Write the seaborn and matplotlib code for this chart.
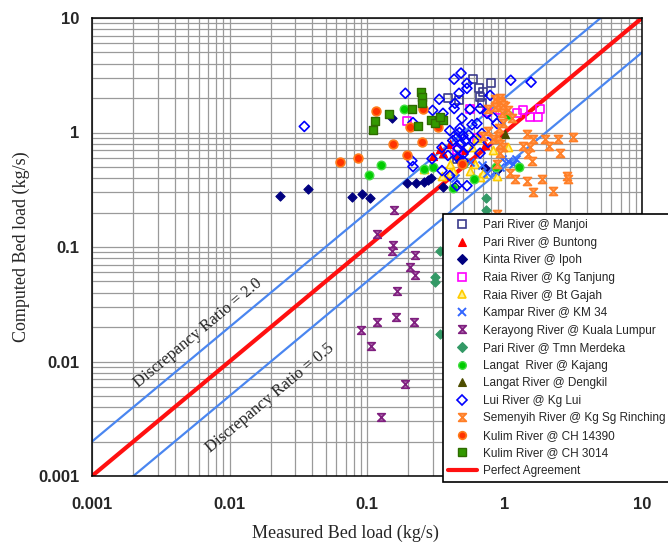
import numpy as np
import pandas as pd
import matplotlib
matplotlib.use("Agg")
import matplotlib.pyplot as plt
from matplotlib.path import Path
from matplotlib.lines import Line2D
import matplotlib.ticker as mticker
import seaborn as sns

sns.set_style("white")
plt.rcParams["font.family"] = ["Liberation Sans", "DejaVu Sans"]

# ---------------- data ----------------
pari_manjoi_x = [0.59, 0.80, 0.65, 0.70, 0.39, 0.47, 0.66, 0.69, 0.45]
pari_manjoi_y = [2.92, 2.69, 2.43, 2.24, 1.99, 1.91, 2.03, 1.80, 0.59]

pari_buntong_x = [0.34, 0.40, 0.50, 0.72, 0.36, 0.45, 0.30, 0.60]
pari_buntong_y = [0.72, 0.80, 0.70, 0.77, 0.66, 0.64, 0.62, 0.55]

kinta_x = [0.0233, 0.0373, 0.0778, 0.092, 0.105, 0.195, 0.227, 0.278, 0.29,
           0.357, 0.436, 0.474, 0.72, 0.88, 0.152, 0.26]
kinta_y = [0.28, 0.323, 0.275, 0.292, 0.269, 0.364, 0.364, 0.387, 0.40,
           0.336, 0.336, 0.567, 0.493, 0.47, 1.35, 0.37]

raia_tanjung_x = [0.195, 0.561, 0.746, 0.927, 1.23, 1.37, 1.53, 1.75, 1.82, 0.45, 0.631]
raia_tanjung_y = [1.25, 1.60, 1.50, 1.56, 1.47, 1.56, 1.37, 1.37, 1.59, 0.70, 0.89]

raia_gajah_x = [0.631, 0.58, 1.06, 0.40, 0.56, 0.664, 0.88, 0.26, 0.35, 0.82, 0.42, 0.61, 0.70, 0.40]
raia_gajah_y = [0.90, 0.74, 0.74, 0.535, 0.465, 0.41, 0.42, 0.483, 0.42, 0.70, 0.465, 0.535, 0.445, 0.44]

kampar_x = [0.96, 1.06, 1.15, 0.93, 0.85, 0.56, 0.436, 0.685, 0.746, 1.22, 0.45]
kampar_y = [0.59, 0.567, 0.535, 0.50, 0.465, 0.55, 0.40, 0.52, 0.44, 0.59, 0.66]

kerayong_x = [0.157, 0.118, 0.154, 0.151, 0.223, 0.205, 0.223, 0.165, 0.118,
              0.163, 0.22, 0.090, 0.107, 0.19, 0.126]
kerayong_y = [0.211, 0.130, 0.104, 0.092, 0.085, 0.067, 0.057, 0.041, 0.022,
              0.0243, 0.022, 0.0187, 0.0136, 0.0064, 0.0033]

merdeka_x = [0.34, 0.313, 0.313, 0.34, 0.733, 0.733]
merdeka_y = [0.092, 0.055, 0.049, 0.0173, 0.269, 0.211]

kajang_x = [0.104, 0.126, 0.186, 0.26, 0.30, 0.42, 0.60, 0.87, 1.06, 1.27, 0.50]
kajang_y = [0.428, 0.524, 1.60, 0.483, 0.50, 0.33, 0.395, 0.504, 1.42, 0.50, 0.535]

dengkil_x = [1.0]
dengkil_y = [0.98]

lui_x = [0.035, 0.19, 0.216, 0.212, 0.216, 0.297, 0.351, 0.335, 0.30, 0.357,
         0.43, 0.483, 0.533, 0.533, 0.467, 0.561, 0.664, 0.786, 1.11, 1.56,
         0.43, 0.40, 0.42, 0.459, 0.499, 0.543, 0.631, 0.685, 0.746, 0.76,
         0.824, 0.88, 0.388, 0.351, 0.45, 0.533, 0.40, 0.499, 0.664, 0.436,
         0.49, 0.58, 0.475, 0.45, 0.48, 0.52, 0.47, 0.55, 0.50, 0.46, 0.60]
lui_y = [1.13, 2.2, 1.22, 0.567, 0.504, 0.59, 0.465, 1.95, 1.56, 1.47,
         2.92, 3.3, 2.69, 2.43, 2.2, 1.59, 1.62, 2.11, 2.86, 2.75,
         1.62, 1.04, 0.85, 0.725, 0.94, 0.74, 1.2, 0.98, 1.47, 0.82,
         1.36, 1.2, 0.63, 0.74, 0.343, 0.343, 0.42, 0.567, 0.66, 1.8,
         1.33, 1.17, 1.09, 0.90, 0.80, 0.85, 1.0, 0.95, 0.65, 0.60, 0.85]

semenyih_x = [0.88, 0.92, 0.95, 0.90, 0.86, 1.0, 0.93, 0.975, 0.85, 1.06,
              0.76, 0.96, 0.975, 1.13, 0.76, 0.82, 0.93, 0.975, 1.46, 1.61,
              1.36, 1.53, 1.48, 1.58, 1.97, 2.1, 2.45, 3.15, 0.93, 0.88,
              1.10, 1.19, 1.46, 1.87, 2.85, 2.9, 2.25, 1.61, 0.70, 0.90,
              0.88, 0.91, 2.55]
semenyih_y = [1.85, 1.9, 1.8, 1.75, 1.95, 1.7, 2.0, 1.73, 1.66, 1.56,
              1.59, 1.47, 1.22, 1.34, 1.04, 0.886, 0.80, 0.74, 0.98, 0.886,
              0.76, 0.74, 0.655, 0.567, 0.886, 0.76, 0.87, 0.92, 0.668, 0.535,
              0.446, 0.395, 0.379, 0.395, 0.42, 0.395, 0.31, 0.305, 0.94, 0.94,
              0.195, 1.09, 0.668]

kulim14390_x = [0.116, 0.155, 0.086, 0.064, 0.195, 0.205, 0.25, 0.255, 0.33, 0.49]
kulim14390_y = [1.53, 0.80, 0.60, 0.557, 0.64, 1.11, 0.83, 1.62, 1.11, 0.535]

kulim3014_x = [0.114, 0.11, 0.145, 0.212, 0.235, 0.245, 0.25, 0.25, 0.29, 0.31, 0.357, 0.34]
kulim3014_y = [1.25, 1.06, 1.44, 1.59, 1.15, 2.24, 2.03, 1.80, 1.29, 1.20, 1.29, 1.36]

ratio_lines = [2.0, 0.5]
axis_ticks = [0.001, 0.01, 0.1, 1, 10]
tick_labels = ["0.001", "0.01", "0.1", "1", "10"]

# ---------------- styles ----------------
hourglass = Path([(-1, -1), (1, 1), (-1, 1), (1, -1), (-1, -1)],
                 [Path.MOVETO, Path.LINETO, Path.LINETO, Path.LINETO, Path.CLOSEPOLY])

series = [
    ("Pari River @ Manjoi", pari_manjoi_x, pari_manjoi_y, "s", "none", "#3B3B8C", 34, 1.2),
    ("Pari River @ Buntong", pari_buntong_x, pari_buntong_y, "^", "#FF0000", "#FF0000", 34, 0.8),
    ("Kinta River @ Ipoh", kinta_x, kinta_y, "D", "#000080", "#000080", 22, 0.8),
    ("Raia River @ Kg Tanjung", raia_tanjung_x, raia_tanjung_y, "s", "none", "#FF00FF", 34, 1.2),
    ("Raia River @ Bt Gajah", raia_gajah_x, raia_gajah_y, "^", "#FFF08A", "#FFCC00", 34, 1.2),
    ("Kampar River @ KM 34", kampar_x, kampar_y, "x", "#3366FF", "#3366FF", 34, 1.4),
    ("Kerayong River @ Kuala Lumpur", kerayong_x, kerayong_y, hourglass, "#B070B0", "#7F1F7F", 30, 1.2),
    ("Pari River @ Tmn Merdeka", merdeka_x, merdeka_y, "D", "#339966", "#339966", 22, 0.8),
    ("Langat  River @ Kajang", kajang_x, kajang_y, "o", "#00CC00", "#44DD44", 38, 1.0),
    ("Langat River @ Dengkil", dengkil_x, dengkil_y, "^", "#4D4D00", "#4D4D00", 34, 0.8),
    ("Lui River @ Kg Lui", lui_x, lui_y, "D", "none", "#0000FF", 26, 1.2),
    ("Semenyih River @ Kg Sg Rinching", semenyih_x, semenyih_y, hourglass, "#FFA060", "#FF7F27", 32, 1.3),
    ("Kulim River @ CH 14390", kulim14390_x, kulim14390_y, "o", "#FF3300", "#FF7A1A", 40, 1.2),
    ("Kulim River @ CH 3014", kulim3014_x, kulim3014_y, "s", "#339900", "#2E6B00", 36, 1.0),
]

W, H = 668, 546
fig = plt.figure(figsize=(W / 100, H / 100), dpi=100)
ax = fig.add_axes([92 / W, 1 - 476 / H, (642 - 92) / W, (476 - 18) / H])
ax.set_xscale("log")
ax.set_yscale("log")
ax.set_xlim(0.001, 10)
ax.set_ylim(0.001, 10)

ax.grid(True, which="both", color="#9a9a9a", linewidth=0.9)
ax.set_axisbelow(True)

# reference lines
line_x = np.array([0.001, 10.0])
for r in ratio_lines:
    sns.lineplot(x=line_x, y=line_x * r, ax=ax, color="#4A86F0", linewidth=1.6,
                 legend=False, zorder=2)
sns.lineplot(x=line_x, y=line_x, ax=ax, color="#FF1010", linewidth=3.0,
             legend=False, zorder=2.2)

handles = []
for name, xs, ys, m, fc, ec, s, lw in series:
    df = pd.DataFrame({"x": xs, "y": ys})
    sns.scatterplot(data=df, x="x", y="y", ax=ax, marker=m, s=s,
                    color=ec, facecolors=fc, edgecolor=ec, linewidth=lw,
                    zorder=3, legend=False)
    handles.append(Line2D([], [], linestyle="none", marker=m,
                          markerfacecolor=fc, markeredgecolor=ec,
                          markeredgewidth=lw, markersize=5.5, label=name))
handles.append(Line2D([], [], color="#FF1010", linewidth=3.0, label="Perfect Agreement"))

ax.xaxis.set_major_locator(mticker.FixedLocator(axis_ticks))
ax.yaxis.set_major_locator(mticker.FixedLocator(axis_ticks))
ax.xaxis.set_major_formatter(mticker.FixedFormatter(tick_labels))
ax.yaxis.set_major_formatter(mticker.FixedFormatter(tick_labels))
ax.tick_params(axis="both", which="major", direction="out", length=3, width=1,
               labelsize=12, color="black")
ax.tick_params(axis="x", which="major", pad=12)
ax.tick_params(axis="y", which="major", pad=6)
ax.tick_params(axis="both", which="minor", length=0)
for lab in ax.get_xticklabels() + ax.get_yticklabels():
    lab.set_fontweight("bold")
for sp in ax.spines.values():
    sp.set_color("black")
    sp.set_linewidth(1.1)

ax.set_xlabel("")
ax.set_ylabel("")
fig.text(345 / W, 1 - 533 / H, "Measured Bed load (kg/s)", ha="center", va="center",
         fontsize=13, family="Liberation Serif")
fig.text(21 / W, 1 - 247 / H, "Computed Bed load (kg/s)", ha="center", va="center",
         rotation=90, fontsize=13, family="Liberation Serif")

ang = np.degrees(np.arctan(114.5 / 137.5))
ax.text(0.0059, 0.0177, "Discrepancy Ratio = 2.0", rotation=ang, ha="center", va="center",
        rotation_mode="anchor", fontsize=12, family="Liberation Serif", zorder=4)
ax.text(0.0197, 0.0048, "Discrepancy Ratio = 0.5", rotation=ang, ha="center", va="center",
        rotation_mode="anchor", fontsize=12, family="Liberation Serif", zorder=4)

leg = ax.legend(handles=handles, loc="upper left",
                bbox_to_anchor=(443 / W, 1 - 214 / H), bbox_transform=fig.transFigure,
                frameon=True, fancybox=False, framealpha=1, edgecolor="black",
                fontsize=8.5, labelspacing=0.47, handlelength=2.4,
                handletextpad=0.55, borderpad=0.45, borderaxespad=0)
leg.get_frame().set_linewidth(1.2)
leg.set_zorder(10)

fig.savefig("out.png", dpi=100)
